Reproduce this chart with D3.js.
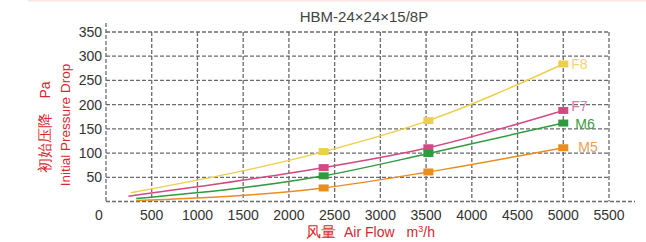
<!DOCTYPE html>
<html><head><meta charset="utf-8">
<script src="https://cdn.jsdelivr.net/npm/d3@7"></script>
<style>
body{margin:0;background:#fff;}
text{font-family:"Liberation Sans",Arial,Helvetica,sans-serif;}
</style></head><body>
<svg id="c" width="646" height="242"></svg>
<script>
const title = "HBM-24×24×15/8P";
const xTicks = [0,500,1000,1500,2000,2500,3000,3500,4000,4500,5000,5500];
const yTicks = [50,100,150,200,250,300,350];
const seriesNames = ["F8","F7","M6","M5"];
const seriesColors = ["#edcf4c","#d24a82","#2f9a3e","#e88d1e"];
const labelColors = ["#f0d66e","#dd78a6","#3a9e47","#eda052"];
const flowF8 = [270,2380,3525,5000];
const valF8  = [18,103,167,284];
const flowF7 = [245,2380,3525,5000];
const valF7  = [11,70,111,188];
const flowM6 = [330,2380,3525,5000];
const valM6  = [6,53,99,162];
const flowM5 = [330,2380,3525,5000];
const valM5  = [2,28,61,111];
const flows = [flowF8,flowF7,flowM6,flowM5];
const vals = [valF8,valF7,valM6,valM5];

const svg = d3.select("#c");
const x = d3.scaleLinear().domain([0,5500]).range([106,609]);
const y = d3.scaleLinear().domain([0,350]).range([201.5,32]);

svg.append("rect").attr("x",28).attr("y",0).attr("width",618).attr("height",1.5).attr("fill","#fbe4e4");

const dash = "4,2";
const gc = "#6b6b6b";
// horizontal grid
svg.append("g").selectAll("line").data(yTicks).join("line")
  .attr("x1",x(0)).attr("x2",x(5500)).attr("y1",d=>y(d)).attr("y2",d=>y(d))
  .attr("stroke",gc).attr("stroke-width",1.3).attr("stroke-dasharray",dash);
// vertical grid
svg.append("g").selectAll("line").data(xTicks.filter(d=>d>0)).join("line")
  .attr("x1",d=>x(d)).attr("x2",d=>x(d)).attr("y1",y(350)).attr("y2",y(0))
  .attr("stroke",gc).attr("stroke-width",1.3).attr("stroke-dasharray",dash);
// axes
svg.append("line").attr("x1",x(0)).attr("x2",x(0)).attr("y1",23).attr("y2",y(0))
  .attr("stroke",gc).attr("stroke-width",1.3).attr("stroke-dasharray",dash);
svg.append("line").attr("x1",x(0)).attr("x2",635).attr("y1",y(0)).attr("y2",y(0))
  .attr("stroke",gc).attr("stroke-width",1.3).attr("stroke-dasharray",dash);

// tick labels
svg.append("g").selectAll("text").data(yTicks).join("text")
  .attr("x",102).attr("y",d=>y(d)+5).attr("text-anchor","end")
  .attr("font-size",14).attr("fill","#333").text(d=>d);
svg.append("g").selectAll("text").data(xTicks).join("text")
  .attr("x",d=>d===0?x(d)-7:x(d)).attr("y",220).attr("text-anchor","middle")
  .attr("font-size",14).attr("fill","#333").text(d=>d);

// title
svg.append("text").attr("x",364).attr("y",21.5).attr("text-anchor","middle")
  .attr("font-size",15).attr("fill","#444").text(title);

// axis titles
const yt = svg.append("text").attr("transform","translate(50,127) rotate(-90)")
  .attr("text-anchor","middle").attr("fill","#d7282f").attr("font-size",15);
yt.append("tspan").text("初始压降");
yt.append("tspan").attr("dx",14).attr("font-size",14).text("Pa");
svg.append("text").attr("transform","translate(69.5,125) rotate(-90)")
  .attr("text-anchor","middle").attr("fill","#d7282f").attr("font-size",13.5)
  .text("Initial Pressure Drop");
const xt = svg.append("text").attr("x",306).attr("y",237).attr("fill","#d7282f").attr("font-size",15);
xt.append("tspan").text("风量");
xt.append("tspan").attr("dx",8).attr("font-size",14).text("Air Flow");
xt.append("tspan").attr("dx",12).attr("font-size",14).text("m");
xt.append("tspan").attr("font-size",9).attr("dy",-5).text("3");
xt.append("tspan").attr("font-size",14).attr("dy",5).text("/h");

// lines
const line = d3.line().x(d=>x(d[0])).y(d=>y(d[1])).curve(d3.curveMonotoneX);
const labelOff = [[8,5],[8,1],[12,6],[15,4]];
seriesNames.forEach((n,i)=>{
  const pts = flows[i].map((f,j)=>[f,vals[i][j]]);
  svg.append("path").datum(pts).attr("d",line).attr("fill","none")
    .attr("stroke",seriesColors[i]).attr("stroke-width",1.5);
  svg.append("g").selectAll("rect").data(pts.slice(1)).join("rect")
    .attr("x",d=>x(d[0])-5).attr("y",d=>y(d[1])-3.5).attr("width",10).attr("height",7)
    .attr("fill",seriesColors[i]);
  const last = pts[pts.length-1];
  svg.append("text").attr("x",x(last[0])+labelOff[i][0]).attr("y",y(last[1])+labelOff[i][1])
    .attr("font-size",14).attr("fill",labelColors[i]).text(n);
});
</script></body></html>
